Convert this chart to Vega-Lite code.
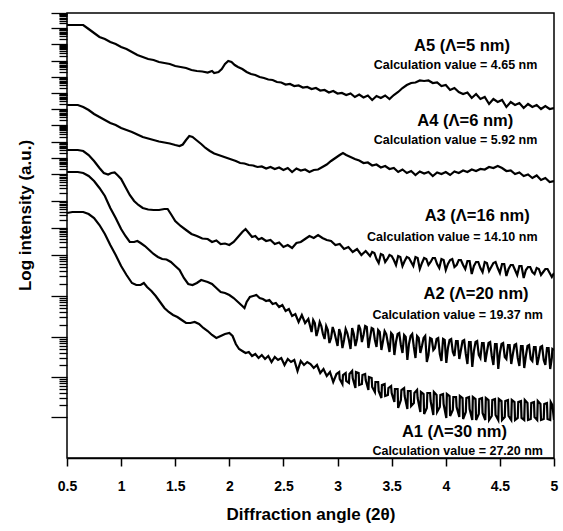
{
"$schema":"https://vega.github.io/schema/vega-lite/v6.json",
"width":487,"height":445,
"autosize":"none",
"padding":{"left":67,"top":13,"right":9,"bottom":73},
"background":"white",
"config":{"view":{"stroke":"black","strokeWidth":1.5},"font":"Liberation Sans"},
"datasets":{
"curves":[
{"s":"A5","x":0.50,"y":43.3},{"s":"A5","x":0.55,"y":43.3},{"s":"A5","x":0.60,"y":43.3},{"s":"A5","x":0.65,"y":43.3},{"s":"A5","x":0.70,"y":42.9},{"s":"A5","x":0.75,"y":42.5},{"s":"A5","x":0.80,"y":42.1},{"s":"A5","x":0.85,"y":41.9},{"s":"A5","x":0.90,"y":41.6},{"s":"A5","x":0.95,"y":41.4},{"s":"A5","x":1.00,"y":41.1},{"s":"A5","x":1.05,"y":40.9},{"s":"A5","x":1.10,"y":40.6},{"s":"A5","x":1.15,"y":40.3},{"s":"A5","x":1.20,"y":40.1},{"s":"A5","x":1.25,"y":39.9},{"s":"A5","x":1.30,"y":39.8},{"s":"A5","x":1.35,"y":39.6},{"s":"A5","x":1.40,"y":39.5},{"s":"A5","x":1.45,"y":39.4},{"s":"A5","x":1.50,"y":39.2},{"s":"A5","x":1.55,"y":39.1},{"s":"A5","x":1.60,"y":39.0},{"s":"A5","x":1.65,"y":38.8},{"s":"A5","x":1.70,"y":38.7},{"s":"A5","x":1.75,"y":38.65},{"s":"A5","x":1.80,"y":38.55},{"s":"A5","x":1.84,"y":38.7},{"s":"A5","x":1.86,"y":38.5},{"s":"A5","x":1.90,"y":38.6},{"s":"A5","x":1.93,"y":38.9},{"s":"A5","x":1.96,"y":39.4},{"s":"A5","x":1.99,"y":39.7},{"s":"A5","x":2.02,"y":39.6},{"s":"A5","x":2.05,"y":39.3},{"s":"A5","x":2.08,"y":39.1},{"s":"A5","x":2.12,"y":38.9},{"s":"A5","x":2.16,"y":38.6},{"s":"A5","x":2.20,"y":38.4},{"s":"A5","x":2.24,"y":38.3},{"s":"A5","x":2.28,"y":38.1},{"s":"A5","x":2.32,"y":38.0},{"s":"A5","x":2.36,"y":37.85},{"s":"A5","x":2.40,"y":37.8},{"s":"A5","x":2.44,"y":37.6},{"s":"A5","x":2.48,"y":37.55},{"s":"A5","x":2.52,"y":37.35},{"s":"A5","x":2.56,"y":37.4},{"s":"A5","x":2.60,"y":37.2},{"s":"A5","x":2.64,"y":37.25},{"s":"A5","x":2.68,"y":37.05},{"s":"A5","x":2.72,"y":37.1},{"s":"A5","x":2.76,"y":36.9},{"s":"A5","x":2.80,"y":37.0},{"s":"A5","x":2.84,"y":36.75},{"s":"A5","x":2.88,"y":36.8},{"s":"A5","x":2.92,"y":36.55},{"s":"A5","x":2.96,"y":36.7},{"s":"A5","x":3.00,"y":36.45},{"s":"A5","x":3.04,"y":36.5},{"s":"A5","x":3.08,"y":36.3},{"s":"A5","x":3.12,"y":36.45},{"s":"A5","x":3.16,"y":36.1},{"s":"A5","x":3.20,"y":36.35},{"s":"A5","x":3.24,"y":36.05},{"s":"A5","x":3.28,"y":36.25},{"s":"A5","x":3.32,"y":35.8},{"s":"A5","x":3.36,"y":36.2},{"s":"A5","x":3.40,"y":36.0},{"s":"A5","x":3.44,"y":36.25},{"s":"A5","x":3.48,"y":35.9},{"s":"A5","x":3.52,"y":36.3},{"s":"A5","x":3.56,"y":36.6},{"s":"A5","x":3.60,"y":37.0},{"s":"A5","x":3.64,"y":37.3},{"s":"A5","x":3.68,"y":37.5},{"s":"A5","x":3.72,"y":37.55},{"s":"A5","x":3.76,"y":37.75},{"s":"A5","x":3.80,"y":37.7},{"s":"A5","x":3.84,"y":37.75},{"s":"A5","x":3.88,"y":37.5},{"s":"A5","x":3.92,"y":37.55},{"s":"A5","x":3.96,"y":37.2},{"s":"A5","x":4.00,"y":37.3},{"s":"A5","x":4.04,"y":36.8},{"s":"A5","x":4.08,"y":37.0},{"s":"A5","x":4.12,"y":36.6},{"s":"A5","x":4.16,"y":36.4},{"s":"A5","x":4.20,"y":36.55},{"s":"A5","x":4.24,"y":36.0},{"s":"A5","x":4.28,"y":36.4},{"s":"A5","x":4.32,"y":35.9},{"s":"A5","x":4.36,"y":36.1},{"s":"A5","x":4.40,"y":35.4},{"s":"A5","x":4.44,"y":35.9},{"s":"A5","x":4.48,"y":35.6},{"s":"A5","x":4.52,"y":35.8},{"s":"A5","x":4.56,"y":35.1},{"s":"A5","x":4.60,"y":35.6},{"s":"A5","x":4.64,"y":35.3},{"s":"A5","x":4.68,"y":35.5},{"s":"A5","x":4.72,"y":35.0},{"s":"A5","x":4.76,"y":35.4},{"s":"A5","x":4.80,"y":35.1},{"s":"A5","x":4.84,"y":35.3},{"s":"A5","x":4.88,"y":34.9},{"s":"A5","x":4.92,"y":35.2},{"s":"A5","x":4.96,"y":34.9},{"s":"A5","x":5.00,"y":35.0},
{"s":"A4","x":0.50,"y":35.3},{"s":"A4","x":0.55,"y":35.3},{"s":"A4","x":0.60,"y":35.3},{"s":"A4","x":0.65,"y":35.1},{"s":"A4","x":0.70,"y":34.8},{"s":"A4","x":0.75,"y":34.4},{"s":"A4","x":0.80,"y":34.1},{"s":"A4","x":0.85,"y":33.8},{"s":"A4","x":0.90,"y":33.5},{"s":"A4","x":0.95,"y":33.3},{"s":"A4","x":1.00,"y":33.0},{"s":"A4","x":1.05,"y":32.8},{"s":"A4","x":1.10,"y":32.6},{"s":"A4","x":1.15,"y":32.35},{"s":"A4","x":1.20,"y":32.1},{"s":"A4","x":1.25,"y":31.95},{"s":"A4","x":1.30,"y":31.8},{"s":"A4","x":1.35,"y":31.65},{"s":"A4","x":1.40,"y":31.55},{"s":"A4","x":1.45,"y":31.45},{"s":"A4","x":1.50,"y":31.3},{"s":"A4","x":1.54,"y":31.2},{"s":"A4","x":1.57,"y":31.35},{"s":"A4","x":1.60,"y":31.8},{"s":"A4","x":1.63,"y":32.2},{"s":"A4","x":1.66,"y":32.1},{"s":"A4","x":1.70,"y":31.75},{"s":"A4","x":1.74,"y":31.4},{"s":"A4","x":1.78,"y":31.0},{"s":"A4","x":1.82,"y":30.7},{"s":"A4","x":1.86,"y":30.45},{"s":"A4","x":1.90,"y":30.3},{"s":"A4","x":1.94,"y":30.15},{"s":"A4","x":1.98,"y":30.0},{"s":"A4","x":2.02,"y":29.85},{"s":"A4","x":2.06,"y":29.7},{"s":"A4","x":2.10,"y":29.5},{"s":"A4","x":2.14,"y":29.45},{"s":"A4","x":2.18,"y":29.3},{"s":"A4","x":2.22,"y":29.25},{"s":"A4","x":2.26,"y":29.1},{"s":"A4","x":2.30,"y":29.15},{"s":"A4","x":2.34,"y":28.95},{"s":"A4","x":2.38,"y":29.1},{"s":"A4","x":2.42,"y":28.9},{"s":"A4","x":2.46,"y":29.05},{"s":"A4","x":2.50,"y":28.8},{"s":"A4","x":2.54,"y":29.0},{"s":"A4","x":2.58,"y":28.6},{"s":"A4","x":2.62,"y":28.95},{"s":"A4","x":2.66,"y":28.75},{"s":"A4","x":2.70,"y":28.85},{"s":"A4","x":2.74,"y":28.6},{"s":"A4","x":2.78,"y":28.8},{"s":"A4","x":2.82,"y":28.85},{"s":"A4","x":2.86,"y":29.1},{"s":"A4","x":2.90,"y":29.35},{"s":"A4","x":2.94,"y":29.7},{"s":"A4","x":2.98,"y":30.0},{"s":"A4","x":3.02,"y":30.3},{"s":"A4","x":3.05,"y":30.5},{"s":"A4","x":3.08,"y":30.3},{"s":"A4","x":3.12,"y":30.1},{"s":"A4","x":3.16,"y":29.9},{"s":"A4","x":3.20,"y":29.75},{"s":"A4","x":3.24,"y":29.5},{"s":"A4","x":3.28,"y":29.55},{"s":"A4","x":3.32,"y":29.25},{"s":"A4","x":3.36,"y":29.35},{"s":"A4","x":3.40,"y":29.05},{"s":"A4","x":3.44,"y":29.2},{"s":"A4","x":3.48,"y":28.9},{"s":"A4","x":3.52,"y":29.0},{"s":"A4","x":3.56,"y":28.6},{"s":"A4","x":3.60,"y":28.85},{"s":"A4","x":3.64,"y":28.5},{"s":"A4","x":3.68,"y":28.7},{"s":"A4","x":3.72,"y":28.3},{"s":"A4","x":3.76,"y":28.65},{"s":"A4","x":3.80,"y":28.45},{"s":"A4","x":3.84,"y":28.6},{"s":"A4","x":3.88,"y":28.2},{"s":"A4","x":3.92,"y":28.55},{"s":"A4","x":3.96,"y":28.4},{"s":"A4","x":4.00,"y":28.6},{"s":"A4","x":4.04,"y":28.3},{"s":"A4","x":4.08,"y":28.65},{"s":"A4","x":4.12,"y":28.5},{"s":"A4","x":4.16,"y":28.75},{"s":"A4","x":4.20,"y":28.6},{"s":"A4","x":4.24,"y":28.85},{"s":"A4","x":4.28,"y":28.7},{"s":"A4","x":4.32,"y":28.9},{"s":"A4","x":4.36,"y":28.85},{"s":"A4","x":4.40,"y":29.1},{"s":"A4","x":4.44,"y":29.0},{"s":"A4","x":4.48,"y":29.2},{"s":"A4","x":4.52,"y":29.0},{"s":"A4","x":4.56,"y":28.7},{"s":"A4","x":4.60,"y":28.75},{"s":"A4","x":4.64,"y":28.4},{"s":"A4","x":4.68,"y":28.55},{"s":"A4","x":4.72,"y":28.2},{"s":"A4","x":4.76,"y":28.35},{"s":"A4","x":4.80,"y":28.0},{"s":"A4","x":4.84,"y":28.25},{"s":"A4","x":4.88,"y":27.8},{"s":"A4","x":4.92,"y":28.0},{"s":"A4","x":4.96,"y":27.6},{"s":"A4","x":5.00,"y":27.7},
{"s":"A3","x":0.50,"y":30.8},{"s":"A3","x":0.55,"y":30.8},{"s":"A3","x":0.60,"y":30.8},{"s":"A3","x":0.65,"y":30.7},{"s":"A3","x":0.70,"y":30.3},{"s":"A3","x":0.75,"y":29.7},{"s":"A3","x":0.80,"y":29.0},{"s":"A3","x":0.84,"y":28.5},{"s":"A3","x":0.88,"y":28.35},{"s":"A3","x":0.91,"y":28.5},{"s":"A3","x":0.94,"y":28.55},{"s":"A3","x":0.97,"y":28.25},{"s":"A3","x":1.00,"y":27.9},{"s":"A3","x":1.04,"y":27.1},{"s":"A3","x":1.08,"y":26.3},{"s":"A3","x":1.12,"y":25.7},{"s":"A3","x":1.16,"y":25.3},{"s":"A3","x":1.20,"y":25.0},{"s":"A3","x":1.25,"y":24.85},{"s":"A3","x":1.30,"y":24.8},{"s":"A3","x":1.35,"y":24.8},{"s":"A3","x":1.40,"y":24.9},{"s":"A3","x":1.43,"y":24.9},{"s":"A3","x":1.46,"y":24.4},{"s":"A3","x":1.50,"y":23.7},{"s":"A3","x":1.55,"y":23.2},{"s":"A3","x":1.60,"y":22.8},{"s":"A3","x":1.65,"y":22.4},{"s":"A3","x":1.70,"y":22.2},{"s":"A3","x":1.75,"y":21.95},{"s":"A3","x":1.80,"y":21.9},{"s":"A3","x":1.84,"y":21.6},{"s":"A3","x":1.88,"y":21.75},{"s":"A3","x":1.92,"y":21.4},{"s":"A3","x":1.96,"y":21.45},{"s":"A3","x":2.00,"y":21.3},{"s":"A3","x":2.04,"y":21.6},{"s":"A3","x":2.08,"y":22.1},{"s":"A3","x":2.12,"y":22.6},{"s":"A3","x":2.15,"y":22.9},{"s":"A3","x":2.18,"y":22.5},{"s":"A3","x":2.21,"y":22.1},{"s":"A3","x":2.24,"y":22.2},{"s":"A3","x":2.27,"y":21.85},{"s":"A3","x":2.30,"y":22.0},{"s":"A3","x":2.34,"y":21.7},{"s":"A3","x":2.38,"y":21.8},{"s":"A3","x":2.42,"y":21.4},{"s":"A3","x":2.46,"y":21.55},{"s":"A3","x":2.50,"y":21.1},{"s":"A3","x":2.54,"y":21.3},{"s":"A3","x":2.58,"y":21.0},{"s":"A3","x":2.62,"y":21.5},{"s":"A3","x":2.66,"y":21.6},{"s":"A3","x":2.70,"y":21.9},{"s":"A3","x":2.74,"y":22.2},{"s":"A3","x":2.78,"y":22.0},{"s":"A3","x":2.82,"y":22.3},{"s":"A3","x":2.86,"y":22.0},{"s":"A3","x":2.90,"y":21.8},{"s":"A3","x":2.94,"y":21.7},{"s":"A3","x":2.98,"y":21.3},{"s":"A3","x":3.02,"y":21.4},{"s":"A3","x":3.06,"y":20.9},{"s":"A3","x":3.10,"y":21.1},{"s":"A3","x":3.14,"y":20.6},{"s":"A3","x":3.18,"y":20.9},{"s":"A3","x":3.22,"y":20.3},{"s":"A3","x":3.26,"y":20.7},{"s":"A3","x":3.30,"y":20.2},{"s":"A3","x":3.34,"y":20.5},{"s":"A3","x":3.38,"y":19.5},{"s":"A3","x":3.42,"y":20.3},{"s":"A3","x":3.46,"y":19.9},{"s":"A3","x":3.50,"y":20.2},{"s":"A3","x":3.54,"y":19.3},{"s":"A3","x":3.58,"y":20.1},{"s":"A3","x":3.62,"y":19.7},{"s":"A3","x":3.66,"y":20.0},{"s":"A3","x":3.70,"y":19.2},{"s":"A3","x":3.74,"y":20.0},{"s":"A3","x":3.78,"y":19.5},{"s":"A3","x":3.82,"y":19.9},{"s":"A3","x":3.86,"y":19.6},{"s":"A3","x":3.90,"y":20.0},{"s":"A3","x":3.94,"y":19.0},{"s":"A3","x":3.98,"y":19.8},{"s":"A3","x":4.02,"y":19.4},{"s":"A3","x":4.06,"y":19.9},{"s":"A3","x":4.10,"y":19.3},{"s":"A3","x":4.14,"y":19.8},{"s":"A3","x":4.18,"y":18.9},{"s":"A3","x":4.22,"y":19.7},{"s":"A3","x":4.26,"y":19.2},{"s":"A3","x":4.30,"y":19.6},{"s":"A3","x":4.34,"y":18.6},{"s":"A3","x":4.38,"y":19.5},{"s":"A3","x":4.42,"y":19.1},{"s":"A3","x":4.46,"y":19.6},{"s":"A3","x":4.50,"y":18.5},{"s":"A3","x":4.54,"y":19.4},{"s":"A3","x":4.58,"y":18.9},{"s":"A3","x":4.62,"y":19.3},{"s":"A3","x":4.66,"y":18.3},{"s":"A3","x":4.70,"y":19.2},{"s":"A3","x":4.74,"y":18.8},{"s":"A3","x":4.78,"y":19.1},{"s":"A3","x":4.82,"y":18.4},{"s":"A3","x":4.86,"y":18.9},{"s":"A3","x":4.90,"y":18.6},{"s":"A3","x":4.94,"y":18.9},{"s":"A3","x":4.98,"y":18.1},{"s":"A3","x":5.00,"y":18.5},
{"s":"A3","x":3.32,"y":20.6},{"s":"A3","x":3.36,"y":19.9},{"s":"A3","x":3.40,"y":20.4},{"s":"A3","x":3.44,"y":19.6},{"s":"A3","x":3.48,"y":20.3},{"s":"A3","x":3.52,"y":19.8},{"s":"A3","x":3.56,"y":20.2},{"s":"A3","x":3.60,"y":19.2},{"s":"A3","x":3.64,"y":20.1},{"s":"A3","x":3.68,"y":19.6},{"s":"A3","x":3.72,"y":20.1},{"s":"A3","x":3.76,"y":18.9},{"s":"A3","x":3.80,"y":20.0},{"s":"A3","x":3.84,"y":19.3},{"s":"A3","x":3.88,"y":20.0},{"s":"A3","x":3.92,"y":19.4},{"s":"A3","x":3.96,"y":19.9},{"s":"A3","x":4.00,"y":18.8},{"s":"A3","x":4.04,"y":19.8},{"s":"A3","x":4.08,"y":19.1},{"s":"A3","x":4.12,"y":19.8},{"s":"A3","x":4.16,"y":19.3},{"s":"A3","x":4.20,"y":19.7},{"s":"A3","x":4.24,"y":18.4},{"s":"A3","x":4.28,"y":19.6},{"s":"A3","x":4.32,"y":19.0},{"s":"A3","x":4.36,"y":19.6},{"s":"A3","x":4.40,"y":18.7},{"s":"A3","x":4.44,"y":19.5},{"s":"A3","x":4.48,"y":19.0},{"s":"A3","x":4.52,"y":19.4},{"s":"A3","x":4.56,"y":18.2},{"s":"A3","x":4.60,"y":19.3},{"s":"A3","x":4.64,"y":18.8},{"s":"A3","x":4.68,"y":19.2},{"s":"A3","x":4.72,"y":18.0},{"s":"A3","x":4.76,"y":19.1},{"s":"A3","x":4.80,"y":18.6},{"s":"A3","x":4.84,"y":19.0},{"s":"A3","x":4.88,"y":18.3},{"s":"A3","x":4.92,"y":18.9},{"s":"A3","x":4.96,"y":18.5},
{"s":"A2","x":0.50,"y":28.6},{"s":"A2","x":0.55,"y":28.6},{"s":"A2","x":0.60,"y":28.6},{"s":"A2","x":0.65,"y":28.5},{"s":"A2","x":0.70,"y":28.2},{"s":"A2","x":0.75,"y":27.7},{"s":"A2","x":0.80,"y":27.0},{"s":"A2","x":0.85,"y":26.2},{"s":"A2","x":0.90,"y":25.0},{"s":"A2","x":0.95,"y":24.0},{"s":"A2","x":1.00,"y":22.9},{"s":"A2","x":1.04,"y":22.2},{"s":"A2","x":1.08,"y":21.6},{"s":"A2","x":1.12,"y":21.6},{"s":"A2","x":1.15,"y":21.7},{"s":"A2","x":1.18,"y":21.5},{"s":"A2","x":1.22,"y":21.2},{"s":"A2","x":1.26,"y":20.8},{"s":"A2","x":1.30,"y":20.4},{"s":"A2","x":1.34,"y":20.1},{"s":"A2","x":1.38,"y":19.9},{"s":"A2","x":1.42,"y":19.85},{"s":"A2","x":1.46,"y":19.6},{"s":"A2","x":1.50,"y":19.2},{"s":"A2","x":1.54,"y":18.8},{"s":"A2","x":1.58,"y":18.0},{"s":"A2","x":1.62,"y":17.4},{"s":"A2","x":1.66,"y":17.3},{"s":"A2","x":1.70,"y":17.5},{"s":"A2","x":1.74,"y":17.8},{"s":"A2","x":1.77,"y":17.7},{"s":"A2","x":1.80,"y":17.6},{"s":"A2","x":1.84,"y":17.4},{"s":"A2","x":1.88,"y":17.0},{"s":"A2","x":1.92,"y":16.6},{"s":"A2","x":1.96,"y":16.5},{"s":"A2","x":2.00,"y":16.3},{"s":"A2","x":2.04,"y":16.0},{"s":"A2","x":2.08,"y":15.6},{"s":"A2","x":2.12,"y":15.2},{"s":"A2","x":2.14,"y":15.0},{"s":"A2","x":2.16,"y":15.6},{"s":"A2","x":2.19,"y":16.1},{"s":"A2","x":2.22,"y":16.2},{"s":"A2","x":2.25,"y":16.3},{"s":"A2","x":2.28,"y":16.0},{"s":"A2","x":2.31,"y":15.9},{"s":"A2","x":2.34,"y":15.7},{"s":"A2","x":2.37,"y":15.8},{"s":"A2","x":2.40,"y":15.4},{"s":"A2","x":2.43,"y":15.5},{"s":"A2","x":2.46,"y":15.1},{"s":"A2","x":2.49,"y":15.3},{"s":"A2","x":2.52,"y":14.7},{"s":"A2","x":2.55,"y":14.9},{"s":"A2","x":2.58,"y":14.2},{"s":"A2","x":2.61,"y":14.4},{"s":"A2","x":2.64,"y":13.6},{"s":"A2","x":2.67,"y":14.3},{"s":"A2","x":2.70,"y":13.5},{"s":"A2","x":2.73,"y":13.9},{"s":"A2","x":2.76,"y":12.6},{"s":"A2","x":2.79,"y":13.5},{"s":"A2","x":2.82,"y":12.8},{"s":"A2","x":2.85,"y":13.2},{"s":"A2","x":2.88,"y":11.9},{"s":"A2","x":2.91,"y":12.8},{"s":"A2","x":2.94,"y":12.0},{"s":"A2","x":2.97,"y":12.6},{"s":"A2","x":3.00,"y":11.2},{"s":"A2","x":3.03,"y":12.4},{"s":"A2","x":3.06,"y":11.8},{"s":"A2","x":3.09,"y":12.5},{"s":"A2","x":3.12,"y":10.9},{"s":"A2","x":3.15,"y":12.4},{"s":"A2","x":3.18,"y":11.9},{"s":"A2","x":3.21,"y":12.9},{"s":"A2","x":3.24,"y":12.3},{"s":"A2","x":3.27,"y":13.1},{"s":"A2","x":3.30,"y":12.0},{"s":"A2","x":3.33,"y":12.9},{"s":"A2","x":3.36,"y":11.1},{"s":"A2","x":3.39,"y":12.6},{"s":"A2","x":3.42,"y":11.7},{"s":"A2","x":3.45,"y":12.4},{"s":"A2","x":3.48,"y":10.6},{"s":"A2","x":3.51,"y":12.3},{"s":"A2","x":3.54,"y":11.6},{"s":"A2","x":3.57,"y":12.5},{"s":"A2","x":3.60,"y":10.5},{"s":"A2","x":3.63,"y":12.1},{"s":"A2","x":3.66,"y":11.4},{"s":"A2","x":3.69,"y":12.4},{"s":"A2","x":3.72,"y":10.0},{"s":"A2","x":3.75,"y":12.0},{"s":"A2","x":3.78,"y":11.2},{"s":"A2","x":3.81,"y":12.2},{"s":"A2","x":3.84,"y":10.3},{"s":"A2","x":3.87,"y":11.9},{"s":"A2","x":3.90,"y":11.0},{"s":"A2","x":3.93,"y":12.0},{"s":"A2","x":3.96,"y":9.7},{"s":"A2","x":3.99,"y":11.8},{"s":"A2","x":4.02,"y":11.0},{"s":"A2","x":4.05,"y":11.9},{"s":"A2","x":4.08,"y":10.2},{"s":"A2","x":4.11,"y":11.7},{"s":"A2","x":4.14,"y":10.8},{"s":"A2","x":4.17,"y":11.8},{"s":"A2","x":4.20,"y":9.4},{"s":"A2","x":4.23,"y":11.6},{"s":"A2","x":4.26,"y":10.7},{"s":"A2","x":4.29,"y":11.7},{"s":"A2","x":4.32,"y":10.0},{"s":"A2","x":4.35,"y":11.5},{"s":"A2","x":4.38,"y":10.6},{"s":"A2","x":4.41,"y":11.6},{"s":"A2","x":4.44,"y":9.3},{"s":"A2","x":4.47,"y":11.4},{"s":"A2","x":4.50,"y":10.5},{"s":"A2","x":4.53,"y":11.5},{"s":"A2","x":4.56,"y":9.9},{"s":"A2","x":4.59,"y":11.3},{"s":"A2","x":4.62,"y":10.4},{"s":"A2","x":4.65,"y":11.4},{"s":"A2","x":4.68,"y":9.2},{"s":"A2","x":4.71,"y":11.2},{"s":"A2","x":4.74,"y":10.2},{"s":"A2","x":4.77,"y":11.3},{"s":"A2","x":4.80,"y":9.7},{"s":"A2","x":4.83,"y":11.1},{"s":"A2","x":4.86,"y":10.1},{"s":"A2","x":4.89,"y":11.2},{"s":"A2","x":4.92,"y":9.3},{"s":"A2","x":4.95,"y":11.0},{"s":"A2","x":4.98,"y":10.0},{"s":"A2","x":5.00,"y":10.8},
{"s":"A2","x":2.775,"y":13.8},{"s":"A2","x":2.805,"y":12.2},{"s":"A2","x":2.835,"y":13.6},{"s":"A2","x":2.865,"y":12.4},{"s":"A2","x":2.895,"y":13.2},{"s":"A2","x":2.925,"y":11.5},{"s":"A2","x":2.955,"y":13.1},{"s":"A2","x":2.985,"y":11.9},{"s":"A2","x":3.015,"y":12.9},{"s":"A2","x":3.045,"y":11.0},{"s":"A2","x":3.075,"y":12.9},{"s":"A2","x":3.105,"y":11.8},{"s":"A2","x":3.135,"y":13.0},{"s":"A2","x":3.165,"y":11.2},{"s":"A2","x":3.195,"y":13.3},{"s":"A2","x":3.225,"y":11.6},{"s":"A2","x":3.255,"y":13.2},{"s":"A2","x":3.285,"y":11.0},{"s":"A2","x":3.315,"y":13.0},{"s":"A2","x":3.345,"y":11.8},{"s":"A2","x":3.375,"y":12.8},{"s":"A2","x":3.405,"y":10.8},{"s":"A2","x":3.435,"y":12.7},{"s":"A2","x":3.465,"y":11.5},{"s":"A2","x":3.495,"y":12.5},{"s":"A2","x":3.525,"y":10.3},{"s":"A2","x":3.555,"y":12.4},{"s":"A2","x":3.585,"y":11.3},{"s":"A2","x":3.615,"y":12.3},{"s":"A2","x":3.645,"y":9.8},{"s":"A2","x":3.675,"y":12.2},{"s":"A2","x":3.705,"y":11.1},{"s":"A2","x":3.735,"y":12.2},{"s":"A2","x":3.765,"y":10.5},{"s":"A2","x":3.795,"y":12.0},{"s":"A2","x":3.825,"y":9.6},{"s":"A2","x":3.855,"y":12.0},{"s":"A2","x":3.885,"y":10.8},{"s":"A2","x":3.915,"y":11.9},{"s":"A2","x":3.945,"y":10.4},{"s":"A2","x":3.975,"y":11.9},{"s":"A2","x":4.005,"y":9.5},{"s":"A2","x":4.035,"y":11.8},{"s":"A2","x":4.065,"y":10.6},{"s":"A2","x":4.095,"y":11.7},{"s":"A2","x":4.125,"y":9.9},{"s":"A2","x":4.155,"y":11.7},{"s":"A2","x":4.185,"y":10.4},{"s":"A2","x":4.215,"y":11.6},{"s":"A2","x":4.245,"y":9.1},{"s":"A2","x":4.275,"y":11.6},{"s":"A2","x":4.305,"y":10.3},{"s":"A2","x":4.335,"y":11.5},{"s":"A2","x":4.365,"y":9.6},{"s":"A2","x":4.395,"y":11.5},{"s":"A2","x":4.425,"y":10.2},{"s":"A2","x":4.455,"y":11.4},{"s":"A2","x":4.485,"y":8.9},{"s":"A2","x":4.515,"y":11.4},{"s":"A2","x":4.545,"y":10.1},{"s":"A2","x":4.575,"y":11.3},{"s":"A2","x":4.605,"y":9.4},{"s":"A2","x":4.635,"y":11.3},{"s":"A2","x":4.665,"y":10.0},{"s":"A2","x":4.695,"y":11.2},{"s":"A2","x":4.725,"y":9.0},{"s":"A2","x":4.755,"y":11.2},{"s":"A2","x":4.785,"y":9.9},{"s":"A2","x":4.815,"y":11.1},{"s":"A2","x":4.845,"y":9.3},{"s":"A2","x":4.875,"y":11.1},{"s":"A2","x":4.905,"y":9.8},{"s":"A2","x":4.935,"y":11.0},{"s":"A2","x":4.965,"y":8.9},{"s":"A2","x":4.985,"y":10.9},
{"s":"A1","x":0.50,"y":24.5},{"s":"A1","x":0.55,"y":24.6},{"s":"A1","x":0.60,"y":24.6},{"s":"A1","x":0.65,"y":24.6},{"s":"A1","x":0.70,"y":24.4},{"s":"A1","x":0.75,"y":24.0},{"s":"A1","x":0.80,"y":23.3},{"s":"A1","x":0.85,"y":22.4},{"s":"A1","x":0.90,"y":21.3},{"s":"A1","x":0.95,"y":20.3},{"s":"A1","x":1.00,"y":19.2},{"s":"A1","x":1.05,"y":18.3},{"s":"A1","x":1.10,"y":17.5},{"s":"A1","x":1.14,"y":17.3},{"s":"A1","x":1.18,"y":17.3},{"s":"A1","x":1.21,"y":17.5},{"s":"A1","x":1.24,"y":17.1},{"s":"A1","x":1.28,"y":16.7},{"s":"A1","x":1.32,"y":16.2},{"s":"A1","x":1.36,"y":15.6},{"s":"A1","x":1.40,"y":15.0},{"s":"A1","x":1.44,"y":14.6},{"s":"A1","x":1.48,"y":14.3},{"s":"A1","x":1.52,"y":14.1},{"s":"A1","x":1.56,"y":13.8},{"s":"A1","x":1.60,"y":13.5},{"s":"A1","x":1.64,"y":13.5},{"s":"A1","x":1.68,"y":13.6},{"s":"A1","x":1.72,"y":13.4},{"s":"A1","x":1.76,"y":13.0},{"s":"A1","x":1.80,"y":12.7},{"s":"A1","x":1.84,"y":12.3},{"s":"A1","x":1.88,"y":12.0},{"s":"A1","x":1.92,"y":12.2},{"s":"A1","x":1.96,"y":12.4},{"s":"A1","x":2.00,"y":12.5},{"s":"A1","x":2.03,"y":12.2},{"s":"A1","x":2.06,"y":11.4},{"s":"A1","x":2.09,"y":10.9},{"s":"A1","x":2.12,"y":10.7},{"s":"A1","x":2.15,"y":10.5},{"s":"A1","x":2.18,"y":10.6},{"s":"A1","x":2.21,"y":10.2},{"s":"A1","x":2.24,"y":10.4},{"s":"A1","x":2.27,"y":10.0},{"s":"A1","x":2.30,"y":10.3},{"s":"A1","x":2.33,"y":9.9},{"s":"A1","x":2.36,"y":10.2},{"s":"A1","x":2.39,"y":9.6},{"s":"A1","x":2.42,"y":10.1},{"s":"A1","x":2.45,"y":9.8},{"s":"A1","x":2.48,"y":10.0},{"s":"A1","x":2.51,"y":9.3},{"s":"A1","x":2.54,"y":9.9},{"s":"A1","x":2.57,"y":9.6},{"s":"A1","x":2.60,"y":9.8},{"s":"A1","x":2.63,"y":8.7},{"s":"A1","x":2.66,"y":9.7},{"s":"A1","x":2.69,"y":9.3},{"s":"A1","x":2.72,"y":9.6},{"s":"A1","x":2.75,"y":9.4},{"s":"A1","x":2.78,"y":9.0},{"s":"A1","x":2.81,"y":9.3},{"s":"A1","x":2.84,"y":8.5},{"s":"A1","x":2.87,"y":8.9},{"s":"A1","x":2.90,"y":8.2},{"s":"A1","x":2.93,"y":8.6},{"s":"A1","x":2.96,"y":7.6},{"s":"A1","x":2.99,"y":8.4},{"s":"A1","x":3.02,"y":7.9},{"s":"A1","x":3.05,"y":8.3},{"s":"A1","x":3.08,"y":7.7},{"s":"A1","x":3.11,"y":8.4},{"s":"A1","x":3.14,"y":8.0},{"s":"A1","x":3.17,"y":8.6},{"s":"A1","x":3.20,"y":7.3},{"s":"A1","x":3.23,"y":8.3},{"s":"A1","x":3.26,"y":7.8},{"s":"A1","x":3.29,"y":8.1},{"s":"A1","x":3.32,"y":7.1},{"s":"A1","x":3.35,"y":7.6},{"s":"A1","x":3.38,"y":6.7},{"s":"A1","x":3.41,"y":7.3},{"s":"A1","x":3.44,"y":6.2},{"s":"A1","x":3.47,"y":7.0},{"s":"A1","x":3.50,"y":6.5},{"s":"A1","x":3.53,"y":6.9},{"s":"A1","x":3.56,"y":5.0},{"s":"A1","x":3.59,"y":6.8},{"s":"A1","x":3.62,"y":6.2},{"s":"A1","x":3.65,"y":6.7},{"s":"A1","x":3.68,"y":5.2},{"s":"A1","x":3.71,"y":6.5},{"s":"A1","x":3.74,"y":6.0},{"s":"A1","x":3.77,"y":6.6},{"s":"A1","x":3.80,"y":4.4},{"s":"A1","x":3.83,"y":6.5},{"s":"A1","x":3.86,"y":5.7},{"s":"A1","x":3.89,"y":6.6},{"s":"A1","x":3.92,"y":4.6},{"s":"A1","x":3.95,"y":6.3},{"s":"A1","x":3.98,"y":5.4},{"s":"A1","x":4.01,"y":6.4},{"s":"A1","x":4.04,"y":4.2},{"s":"A1","x":4.07,"y":6.1},{"s":"A1","x":4.10,"y":5.1},{"s":"A1","x":4.13,"y":6.2},{"s":"A1","x":4.16,"y":3.9},{"s":"A1","x":4.19,"y":6.0},{"s":"A1","x":4.22,"y":4.9},{"s":"A1","x":4.25,"y":6.1},{"s":"A1","x":4.28,"y":3.8},{"s":"A1","x":4.31,"y":5.9},{"s":"A1","x":4.34,"y":4.5},{"s":"A1","x":4.37,"y":6.0},{"s":"A1","x":4.40,"y":3.8},{"s":"A1","x":4.43,"y":5.8},{"s":"A1","x":4.46,"y":4.3},{"s":"A1","x":4.49,"y":5.9},{"s":"A1","x":4.52,"y":3.8},{"s":"A1","x":4.55,"y":5.7},{"s":"A1","x":4.58,"y":4.2},{"s":"A1","x":4.61,"y":5.8},{"s":"A1","x":4.64,"y":3.8},{"s":"A1","x":4.67,"y":5.6},{"s":"A1","x":4.70,"y":4.0},{"s":"A1","x":4.73,"y":5.8},{"s":"A1","x":4.76,"y":3.8},{"s":"A1","x":4.79,"y":5.5},{"s":"A1","x":4.82,"y":4.1},{"s":"A1","x":4.85,"y":5.7},{"s":"A1","x":4.88,"y":3.8},{"s":"A1","x":4.91,"y":5.4},{"s":"A1","x":4.94,"y":3.9},{"s":"A1","x":4.97,"y":5.6},{"s":"A1","x":5.00,"y":3.8},
{"s":"A1","x":3.015,"y":8.6},{"s":"A1","x":3.045,"y":7.4},{"s":"A1","x":3.075,"y":8.5},{"s":"A1","x":3.105,"y":7.5},{"s":"A1","x":3.135,"y":8.7},{"s":"A1","x":3.165,"y":7.0},{"s":"A1","x":3.195,"y":8.5},{"s":"A1","x":3.225,"y":7.4},{"s":"A1","x":3.255,"y":8.4},{"s":"A1","x":3.285,"y":6.8},{"s":"A1","x":3.315,"y":8.0},{"s":"A1","x":3.345,"y":6.6},{"s":"A1","x":3.375,"y":7.6},{"s":"A1","x":3.405,"y":6.0},{"s":"A1","x":3.435,"y":7.4},{"s":"A1","x":3.465,"y":6.3},{"s":"A1","x":3.495,"y":7.2},{"s":"A1","x":3.525,"y":5.6},{"s":"A1","x":3.555,"y":6.9},{"s":"A1","x":3.585,"y":5.8},{"s":"A1","x":3.615,"y":7.0},{"s":"A1","x":3.645,"y":4.9},{"s":"A1","x":3.675,"y":6.7},{"s":"A1","x":3.705,"y":5.5},{"s":"A1","x":3.735,"y":6.8},{"s":"A1","x":3.765,"y":4.6},{"s":"A1","x":3.795,"y":6.4},{"s":"A1","x":3.825,"y":5.0},{"s":"A1","x":3.855,"y":6.5},{"s":"A1","x":3.885,"y":4.3},{"s":"A1","x":3.915,"y":6.3},{"s":"A1","x":3.945,"y":5.1},{"s":"A1","x":3.975,"y":6.4},{"s":"A1","x":4.005,"y":4.0},{"s":"A1","x":4.035,"y":6.2},{"s":"A1","x":4.065,"y":4.8},{"s":"A1","x":4.095,"y":6.1},{"s":"A1","x":4.125,"y":4.1},{"s":"A1","x":4.155,"y":6.0},{"s":"A1","x":4.185,"y":4.6},{"s":"A1","x":4.215,"y":6.1},{"s":"A1","x":4.245,"y":3.8},{"s":"A1","x":4.275,"y":5.9},{"s":"A1","x":4.305,"y":4.4},{"s":"A1","x":4.335,"y":6.0},{"s":"A1","x":4.365,"y":3.8},{"s":"A1","x":4.395,"y":5.8},{"s":"A1","x":4.425,"y":4.2},{"s":"A1","x":4.455,"y":5.9},{"s":"A1","x":4.485,"y":3.8},{"s":"A1","x":4.515,"y":5.7},{"s":"A1","x":4.545,"y":4.1},{"s":"A1","x":4.575,"y":5.8},{"s":"A1","x":4.605,"y":3.8},{"s":"A1","x":4.635,"y":5.6},{"s":"A1","x":4.665,"y":4.0},{"s":"A1","x":4.695,"y":5.7},{"s":"A1","x":4.725,"y":3.8},{"s":"A1","x":4.755,"y":5.5},{"s":"A1","x":4.785,"y":3.9},{"s":"A1","x":4.815,"y":5.6},{"s":"A1","x":4.845,"y":3.8},{"s":"A1","x":4.875,"y":5.4},{"s":"A1","x":4.905,"y":3.9},{"s":"A1","x":4.935,"y":5.5},{"s":"A1","x":4.965,"y":3.8},{"s":"A1","x":4.985,"y":5.3}
],
"labels":[
{"x":4.15,"y":41.2,"t":"A5 (Λ=5 nm)"},
{"x":4.18,"y":33.7,"t":"A4 (Λ=6 nm)"},
{"x":4.29,"y":24.2,"t":"A3 (Λ=16 nm)"},
{"x":4.28,"y":16.4,"t":"A2 (Λ=20 nm)"},
{"x":4.08,"y":2.6,"t":"A1 (Λ=30 nm)"}
],
"calcs":[
{"x":4.09,"y":39.3,"t":"Calculation value = 4.65 nm"},
{"x":4.09,"y":31.8,"t":"Calculation value = 5.92 nm"},
{"x":4.06,"y":22.1,"t":"Calculation value = 14.10 nm"},
{"x":4.11,"y":14.3,"t":"Calculation value = 19.37 nm"},
{"x":4.11,"y":0.7,"t":"Calculation value = 27.20 nm"}
],
"ticks":[{"x":0.5,"I":1},{"x":0.5,"I":1e17}]
},
"layer":[
{"data":{"name":"curves"},
 "mark":{"type":"line","color":"black","strokeWidth":2.2,"clip":true},
 "encoding":{
  "x":{"field":"x","type":"quantitative","scale":{"domain":[0.5,5],"nice":false,"zero":false},
   "axis":{"values":[0.5,1,1.5,2,2.5,3,3.5,4,4.5,5],"format":"~g","title":"Diffraction angle (2θ)","grid":false,"domainColor":"black","domainWidth":1.5,"tickColor":"black","tickWidth":1.5,"tickSize":8,"labelFont":"Liberation Sans","labelFontSize":14,"labelFontWeight":"bold","labelColor":"black","labelPadding":13,"labelFlush":false,"titleFont":"Liberation Sans","titleFontSize":17,"titleFontWeight":"bold","titleColor":"black","titlePadding":13}},
  "y":{"field":"y","type":"quantitative","scale":{"domain":[0,44.5],"nice":false,"zero":false},"axis":null},
  "detail":{"field":"s","type":"nominal"}
 }},
{"data":{"name":"labels"},
 "mark":{"type":"text","font":"Liberation Sans","fontWeight":"bold","fontSize":16.5,"color":"black","align":"center","baseline":"middle"},
 "encoding":{
  "x":{"field":"x","type":"quantitative"},
  "y":{"field":"y","type":"quantitative","scale":{"domain":[0,44.5],"nice":false,"zero":false},"axis":null},
  "text":{"field":"t"}
 }},
{"data":{"name":"calcs"},
 "mark":{"type":"text","font":"Liberation Sans","fontWeight":"bold","fontSize":12.5,"color":"black","align":"center","baseline":"middle"},
 "encoding":{
  "x":{"field":"x","type":"quantitative"},
  "y":{"field":"y","type":"quantitative","scale":{"domain":[0,44.5],"nice":false,"zero":false},"axis":null},
  "text":{"field":"t"}
 }},
{"data":{"name":"ticks"},
 "mark":{"type":"point","opacity":0},
 "encoding":{
  "x":{"field":"x","type":"quantitative"},
  "y":{"field":"I","type":"quantitative",
   "scale":{"type":"log","domain":[1,10,100,1000,1e4,1e5,1e6,1e7,1e8,1e9,1e10,1e11,1e12,1e13,1e14,1e15,1e16,1e17],"range":[404,364,324,283,242,215,188,161,145,129,112,96,80,64,48,31,15,0],"nice":false},
   "axis":{"orient":"left","title":"Log intensity (a.u.)","labels":false,"grid":false,"domain":false,"tickCount":60,"tickColor":"black","tickWidth":1.3,
    "tickSize":{"condition":{"test":"abs(log(datum.value)/LN10 - round(log(datum.value)/LN10)) < 0.0001","value":16},"value":8},
    "titleFont":"Liberation Sans","titleFontSize":17,"titleFontWeight":"bold","titleColor":"black","titlePadding":16}}
 }}
],
"resolve":{"scale":{"y":"independent"}}
}
